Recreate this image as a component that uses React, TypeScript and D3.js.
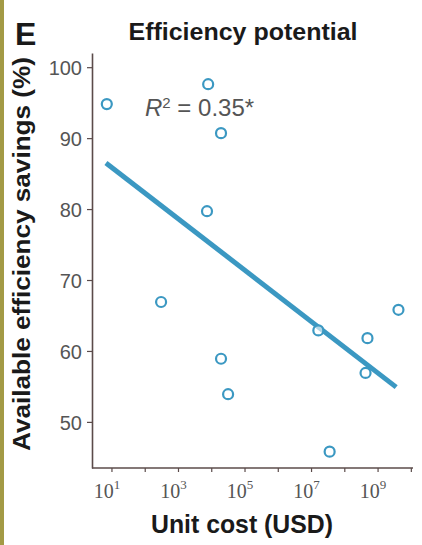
import React, { useRef, useLayoutEffect } from 'react'
import * as d3 from "d3";

// unit cost (USD) and available efficiency savings (%)
const unitCost = [7, 7800, 19000, 7200, 300, 19000, 31000, 16000000, 480000000, 4100000000, 420000000, 35000000];
const savings = [94.8, 97.6, 90.7, 79.7, 66.9, 58.9, 53.9, 62.9, 61.8, 65.8, 56.9, 45.8];
// fitted line end points
const trendCost = [6.6, 3500000000];
const trendSavings = [86.5, 54.9];
const yTicks = [50, 60, 70, 80, 90, 100];
const xTickExp = [1, 3, 5, 7, 9];
const xMinorExp = [1, 2, 3, 4, 5, 6, 7, 8, 9, 10];

const W = 422, H = 545;
const blue = "#3b98c2";
const axisCol = "#5b4b4a";
const cond = "'Liberation Sans Narrow', 'Arial Narrow', 'Liberation Sans', sans-serif";

const App = () => {
  const gRef = useRef(null);

  var x = d3.scaleLog().domain([Math.pow(10, 0.4), Math.pow(10, 10.02)]).range([92, 412]);
  var y = d3.scaleLinear().domain([43.5, 102]).range([468, 53]);

  useLayoutEffect(() => {
    var g = d3.select(gRef.current);
    g.selectAll("*").remove();

    // y axis
    var yAxis = g.append("g").attr("transform", "translate(92,0)")
      .call(d3.axisLeft(y).tickValues(yTicks).tickSize(5).tickSizeOuter(0).tickPadding(5));
    yAxis.select(".domain").attr("stroke", axisCol).attr("stroke-width", 1.6);
    yAxis.selectAll(".tick line").attr("stroke", axisCol).attr("stroke-width", 1.2);
    yAxis.selectAll(".tick text")
      .attr("font-family", cond).attr("font-size", 20).attr("fill", "#555")
      .attr("dy", "0.36em");

    // x axis
    var xAxis = g.append("g").attr("transform", "translate(0,468)");
    xAxis.append("line").attr("x1", 92).attr("x2", 413).attr("stroke", axisCol).attr("stroke-width", 1.6);
    xAxis.selectAll("line.tk").data(xMinorExp).enter().append("line")
      .attr("class", "tk")
      .attr("x1", d => x(Math.pow(10, d))).attr("x2", d => x(Math.pow(10, d)))
      .attr("y1", 0).attr("y2", 4).attr("stroke", axisCol).attr("stroke-width", 1.2);
    var lab = xAxis.selectAll("text.tl").data(xTickExp).enter().append("text")
      .attr("class", "tl")
      .attr("x", d => x(Math.pow(10, d)) - 5).attr("y", 30)
      .attr("text-anchor", "middle")
      .attr("font-family", "'Liberation Serif', 'DejaVu Serif', serif").attr("font-size", 20).attr("fill", "#555");
    lab.append("tspan").text("10");
    lab.append("tspan").attr("dy", -9).attr("font-size", 13).text(d => d);

    // trend line
    g.append("line")
      .attr("x1", x(trendCost[0])).attr("y1", y(trendSavings[0]))
      .attr("x2", x(trendCost[1])).attr("y2", y(trendSavings[1]))
      .attr("stroke", blue).attr("stroke-width", 5);

    // points
    g.selectAll("circle.pt").data(unitCost).enter().append("circle")
      .attr("class", "pt")
      .attr("cx", d => x(d)).attr("cy", (d, i) => y(savings[i]))
      .attr("r", 5).attr("fill", "white").attr("fill-opacity", 0.6)
      .attr("stroke", blue).attr("stroke-width", 2.2);
  }, []);

  return (
    <svg width={W} height={H} style={{ position: "absolute", left: 0, top: 0, background: "white" }}>
      <rect x={0} y={0} width={4} height={H} fill="#a39a45" />
      <text x={15} y={45} fontFamily="'Liberation Sans', Arial, sans-serif" fontWeight="bold" fontSize={32} fill="#1a1a1a">E</text>
      <text x={243} y={40} textAnchor="middle" fontFamily={cond} fontWeight="bold" fontSize={24}
        fill="#1a1a1a" textLength={229} lengthAdjust="spacingAndGlyphs">Efficiency potential</text>
      <text transform="translate(30,254) rotate(-90)" textAnchor="middle" fontFamily={cond} fontWeight="bold"
        fontSize={23} fill="#1a1a1a" textLength={394} lengthAdjust="spacingAndGlyphs">Available efficiency savings (%)</text>
      <text x={242} y={533} textAnchor="middle" fontFamily={cond} fontWeight="bold" fontSize={25}
        fill="#1a1a1a" textLength={182} lengthAdjust="spacingAndGlyphs">Unit cost (USD)</text>
      <text x={145} y={116} fontFamily={cond} fontSize={24} fill="#555">
        <tspan fontStyle="italic">R</tspan>
        <tspan dy={-8} fontSize={15}>2</tspan>
        <tspan dy={8}> = 0.35*</tspan>
      </text>
      <g ref={gRef} />
    </svg>
  )
}

export default App;
